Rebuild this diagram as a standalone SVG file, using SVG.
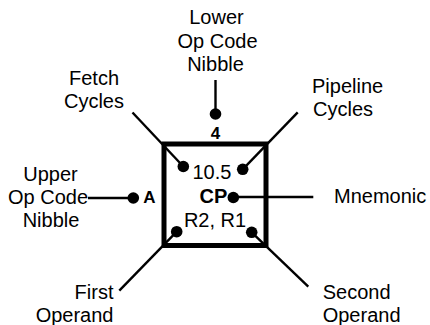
<svg xmlns="http://www.w3.org/2000/svg" width="430" height="325" viewBox="0 0 430 325">
<style>
text{font-family:"Liberation Sans",Arial,sans-serif;font-size:20px;fill:#000}
text.b{font-weight:bold}
text.s{font-size:17px}
.c{text-anchor:middle}
.e{text-anchor:end}
line{stroke:#000;stroke-width:2.4}
circle{fill:#000}
</style>
<rect width="430" height="325" fill="#fff"/>
<g id="connectors">
<line x1="215.5" y1="80" x2="215.5" y2="114"/>
<line x1="132.5" y1="112.5" x2="183.3" y2="166.5"/>
<line x1="297.7" y1="112.3" x2="242.7" y2="169.3"/>
<line x1="88" y1="198" x2="133.3" y2="198"/>
<line x1="233.3" y1="197" x2="313.3" y2="197"/>
<line x1="119.3" y1="290.7" x2="176.7" y2="231.7"/>
<line x1="308.3" y1="286.7" x2="251.7" y2="232.3"/>
</g>
<g id="instruction-box">
<rect x="164" y="144" width="102" height="101.5" fill="none" stroke="#000" stroke-width="5"/>
<circle cx="215.5" cy="114" r="5.8"/>
<circle cx="183.3" cy="166.5" r="5.8"/>
<circle cx="242.7" cy="169.3" r="5.8"/>
<circle cx="133.3" cy="198" r="5.8"/>
<circle cx="233.3" cy="197.5" r="5.8"/>
<circle cx="176.7" cy="231.7" r="5.8"/>
<circle cx="251.7" cy="232.3" r="5.8"/>
<text class="b s c" x="215.5" y="138.5">4</text>
<text class="b s c" x="149.5" y="203">A</text>
<text x="192.5" y="179">10.5</text>
<text class="b" x="199.5" y="202.7">CP</text>
<text class="c" x="215" y="226.7">R2, R1</text>
</g>
<g id="lower-nibble">
<text class="c" x="216.5" y="24.3">Lower</text>
<text class="c" x="217.5" y="47.7">Op Code</text>
<text class="c" x="215.5" y="71">Nibble</text>
</g>
<g id="fetch-cycles">
<text class="c" x="94" y="85">Fetch</text>
<text class="c" x="94" y="108.3">Cycles</text>
</g>
<g id="pipeline-cycles">
<text x="312" y="92.7">Pipeline</text>
<text x="313" y="116">Cycles</text>
</g>
<g id="upper-nibble">
<text class="c" x="50.5" y="180.5">Upper</text>
<text class="c" x="48" y="203.5">Op Code</text>
<text class="c" x="51" y="226.7">Nibble</text>
</g>
<g id="mnemonic">
<text x="334" y="203.3">Mnemonic</text>
</g>
<g id="first-operand">
<text class="e" x="113.5" y="299">First</text>
<text class="e" x="113.5" y="321.7">Operand</text>
</g>
<g id="second-operand">
<text x="322.7" y="299">Second</text>
<text x="322.7" y="321.7">Operand</text>
</g>
</svg>
